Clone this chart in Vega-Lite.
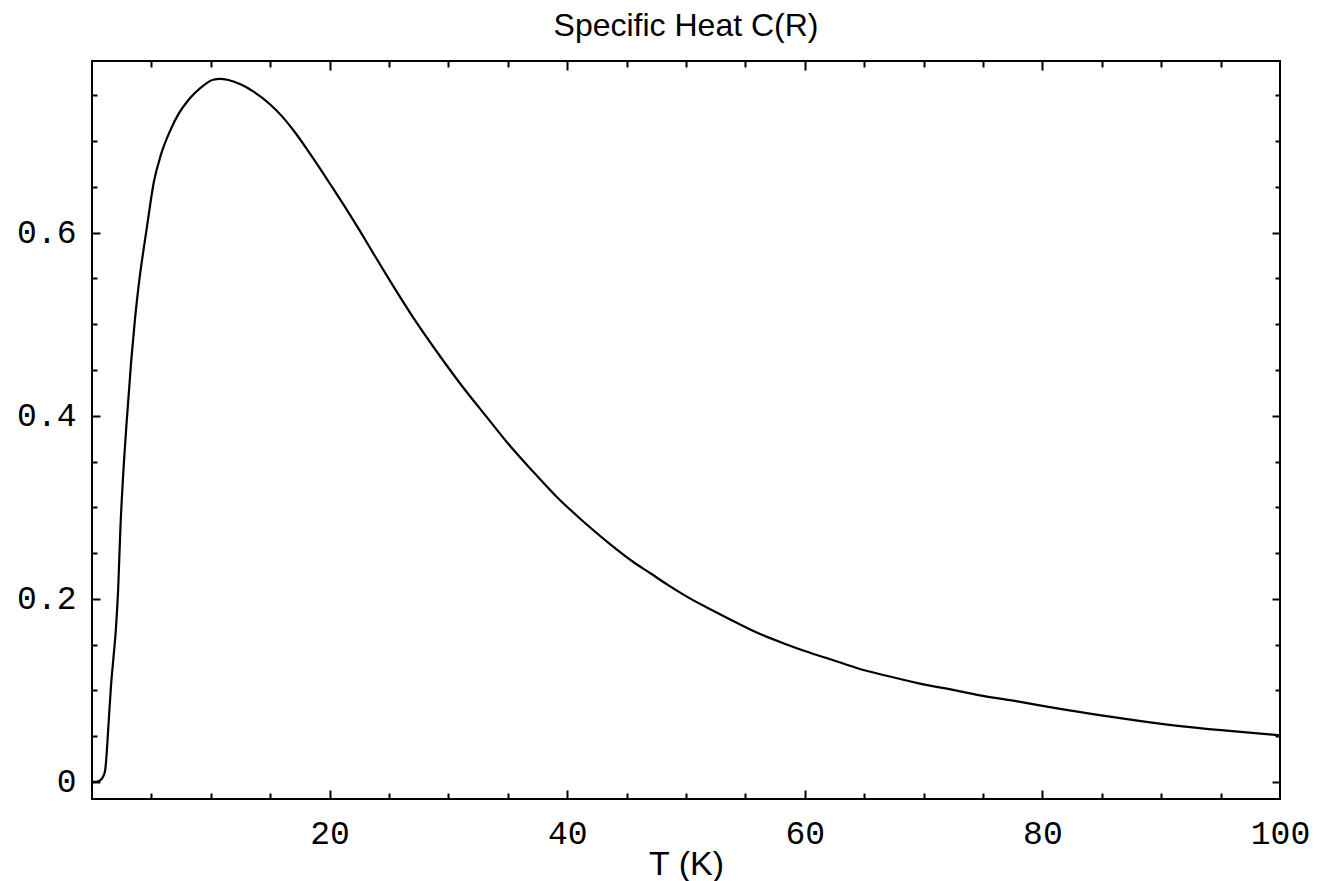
{
  "$schema": "https://vega.github.io/schema/vega-lite/v6.json",
  "width": 1188,
  "height": 738,
  "autosize": "none",
  "padding": {"left": 92, "top": 61, "right": 37, "bottom": 82},
  "background": "white",
  "config": {
    "view": {"stroke": "black", "strokeWidth": 2, "fill": "white"},
    "axis": {
      "domain": false,
      "grid": false,
      "labelFont": "Liberation Mono",
      "labelFontSize": 33,
      "labelColor": "black",
      "tickColor": "black",
      "tickWidth": 2,
      "titleColor": "black",
      "labelFlush": false,
      "labelOverlap": false,
      "labelBound": false
    }
  },
  "title": {
    "text": "Specific Heat C(R)",
    "font": "Liberation Sans Narrow, Liberation Sans, sans-serif",
    "fontSize": 32,
    "fontWeight": "normal",
    "color": "black",
    "anchor": "middle",
    "frame": "group",
    "baseline": "bottom",
    "offset": 19,
    "dy": 34
  },
  "data": {
    "values": [
      {"T": 0, "C": 0},
      {"T": 0.3, "C": 0},
      {"T": 0.6, "C": 0.001},
      {"T": 0.9, "C": 0.005},
      {"T": 1.1, "C": 0.012},
      {"T": 1.2, "C": 0.025},
      {"T": 1.4, "C": 0.065},
      {"T": 1.6, "C": 0.105},
      {"T": 1.8, "C": 0.135},
      {"T": 2.0, "C": 0.165},
      {"T": 2.2, "C": 0.21},
      {"T": 2.4, "C": 0.28},
      {"T": 2.6, "C": 0.33},
      {"T": 2.9, "C": 0.39},
      {"T": 3.3, "C": 0.46},
      {"T": 3.6, "C": 0.503},
      {"T": 4.0, "C": 0.55},
      {"T": 4.3, "C": 0.578},
      {"T": 4.7, "C": 0.613},
      {"T": 5.2, "C": 0.655},
      {"T": 5.8, "C": 0.685},
      {"T": 6.6, "C": 0.712},
      {"T": 7.3, "C": 0.73},
      {"T": 8.0, "C": 0.743},
      {"T": 8.7, "C": 0.753},
      {"T": 9.4, "C": 0.761},
      {"T": 10.2, "C": 0.767},
      {"T": 10.8, "C": 0.768},
      {"T": 11.4, "C": 0.767},
      {"T": 12.5, "C": 0.762},
      {"T": 13.6, "C": 0.754},
      {"T": 15.0, "C": 0.74},
      {"T": 16.0, "C": 0.727},
      {"T": 17.0, "C": 0.711},
      {"T": 18.0, "C": 0.693},
      {"T": 19.2, "C": 0.67},
      {"T": 20.3, "C": 0.648},
      {"T": 21.4, "C": 0.626},
      {"T": 22.5, "C": 0.603},
      {"T": 23.7, "C": 0.577},
      {"T": 25.1, "C": 0.547},
      {"T": 27.0, "C": 0.508},
      {"T": 29.3, "C": 0.465},
      {"T": 31.0, "C": 0.435},
      {"T": 33.2, "C": 0.399},
      {"T": 35.0, "C": 0.37},
      {"T": 37.2, "C": 0.338},
      {"T": 39.0, "C": 0.313},
      {"T": 41.4, "C": 0.284},
      {"T": 43.5, "C": 0.261},
      {"T": 45.6, "C": 0.240},
      {"T": 47.0, "C": 0.228},
      {"T": 48.5, "C": 0.215},
      {"T": 50.4, "C": 0.2},
      {"T": 52.0, "C": 0.189},
      {"T": 53.8, "C": 0.177},
      {"T": 56.0, "C": 0.163},
      {"T": 58.3, "C": 0.151},
      {"T": 60.0, "C": 0.143},
      {"T": 62.4, "C": 0.133},
      {"T": 64.5, "C": 0.124},
      {"T": 66.9, "C": 0.116},
      {"T": 69.5, "C": 0.108},
      {"T": 72.7, "C": 0.1},
      {"T": 75.0, "C": 0.094},
      {"T": 77.9, "C": 0.088},
      {"T": 81.0, "C": 0.081},
      {"T": 84.8, "C": 0.073},
      {"T": 88.0, "C": 0.067},
      {"T": 91.6, "C": 0.061},
      {"T": 95.5, "C": 0.056},
      {"T": 100, "C": 0.051}
    ]
  },
  "layer": [
    {
      "mark": {"type": "line", "color": "black", "strokeWidth": 2.2, "interpolate": "monotone"},
      "encoding": {
        "x": {"field": "T", "type": "quantitative", "scale": {"domain": [0, 100], "nice": false, "zero": false},
          "axis": {"orient": "bottom", "values": [20, 40, 60, 80, 100], "ticks": false, "labelPadding": 18,
            "title": "T (K)", "titleFont": "Liberation Sans", "titleFontSize": 34, "titleFontWeight": "normal", "titlePadding": -3}},
        "y": {"field": "C", "type": "quantitative", "scale": {"domain": [-0.0186, 0.7875], "nice": false, "zero": false},
          "axis": {"orient": "left", "values": [0, 0.2, 0.4, 0.6], "ticks": false, "labelPadding": 16, "title": null, "format": "~g"}}
      }
    },
    {
      "mark": {"type": "line", "strokeOpacity": 0},
      "encoding": {
        "x": {"field": "T", "type": "quantitative", "scale": {"domain": [0, 100], "nice": false, "zero": false},
          "axis": {"orient": "bottom", "values": [20, 40, 60, 80], "labels": false, "tickSize": -9, "title": null}},
        "y": {"field": "C", "type": "quantitative", "scale": {"domain": [-0.0186, 0.7875], "nice": false, "zero": false},
          "axis": {"orient": "left", "values": [0, 0.2, 0.4, 0.6], "labels": false, "tickSize": -8, "title": null}}
      }
    },
    {
      "mark": {"type": "line", "strokeOpacity": 0},
      "encoding": {
        "x": {"field": "T", "type": "quantitative", "scale": {"domain": [0, 100], "nice": false, "zero": false},
          "axis": {"orient": "bottom", "values": [5, 10, 15, 25, 30, 35, 45, 50, 55, 65, 70, 75, 85, 90, 95], "labels": false, "tickSize": -6, "title": null}},
        "y": {"field": "C", "type": "quantitative", "scale": {"domain": [-0.0186, 0.7875], "nice": false, "zero": false},
          "axis": {"orient": "left", "values": [0.05, 0.1, 0.15, 0.25, 0.3, 0.35, 0.45, 0.5, 0.55, 0.65, 0.7, 0.75], "labels": false, "tickSize": -5, "title": null}}
      }
    },
    {
      "mark": {"type": "line", "strokeOpacity": 0},
      "encoding": {
        "x": {"field": "T", "type": "quantitative", "scale": {"domain": [0, 100], "nice": false, "zero": false},
          "axis": {"orient": "top", "values": [20, 40, 60, 80], "labels": false, "tickSize": -9, "title": null}},
        "y": {"field": "C", "type": "quantitative", "scale": {"domain": [-0.0186, 0.7875], "nice": false, "zero": false},
          "axis": {"orient": "right", "values": [0, 0.2, 0.4, 0.6], "labels": false, "tickSize": -8, "title": null}}
      }
    },
    {
      "mark": {"type": "line", "strokeOpacity": 0},
      "encoding": {
        "x": {"field": "T", "type": "quantitative", "scale": {"domain": [0, 100], "nice": false, "zero": false},
          "axis": {"orient": "top", "values": [5, 10, 15, 25, 30, 35, 45, 50, 55, 65, 70, 75, 85, 90, 95], "labels": false, "tickSize": -6, "title": null}},
        "y": {"field": "C", "type": "quantitative", "scale": {"domain": [-0.0186, 0.7875], "nice": false, "zero": false},
          "axis": {"orient": "right", "values": [0.05, 0.1, 0.15, 0.25, 0.3, 0.35, 0.45, 0.5, 0.55, 0.65, 0.7, 0.75], "labels": false, "tickSize": -5, "title": null}}
      }
    }
  ],
  "resolve": {"axis": {"x": "independent", "y": "independent"}}
}
